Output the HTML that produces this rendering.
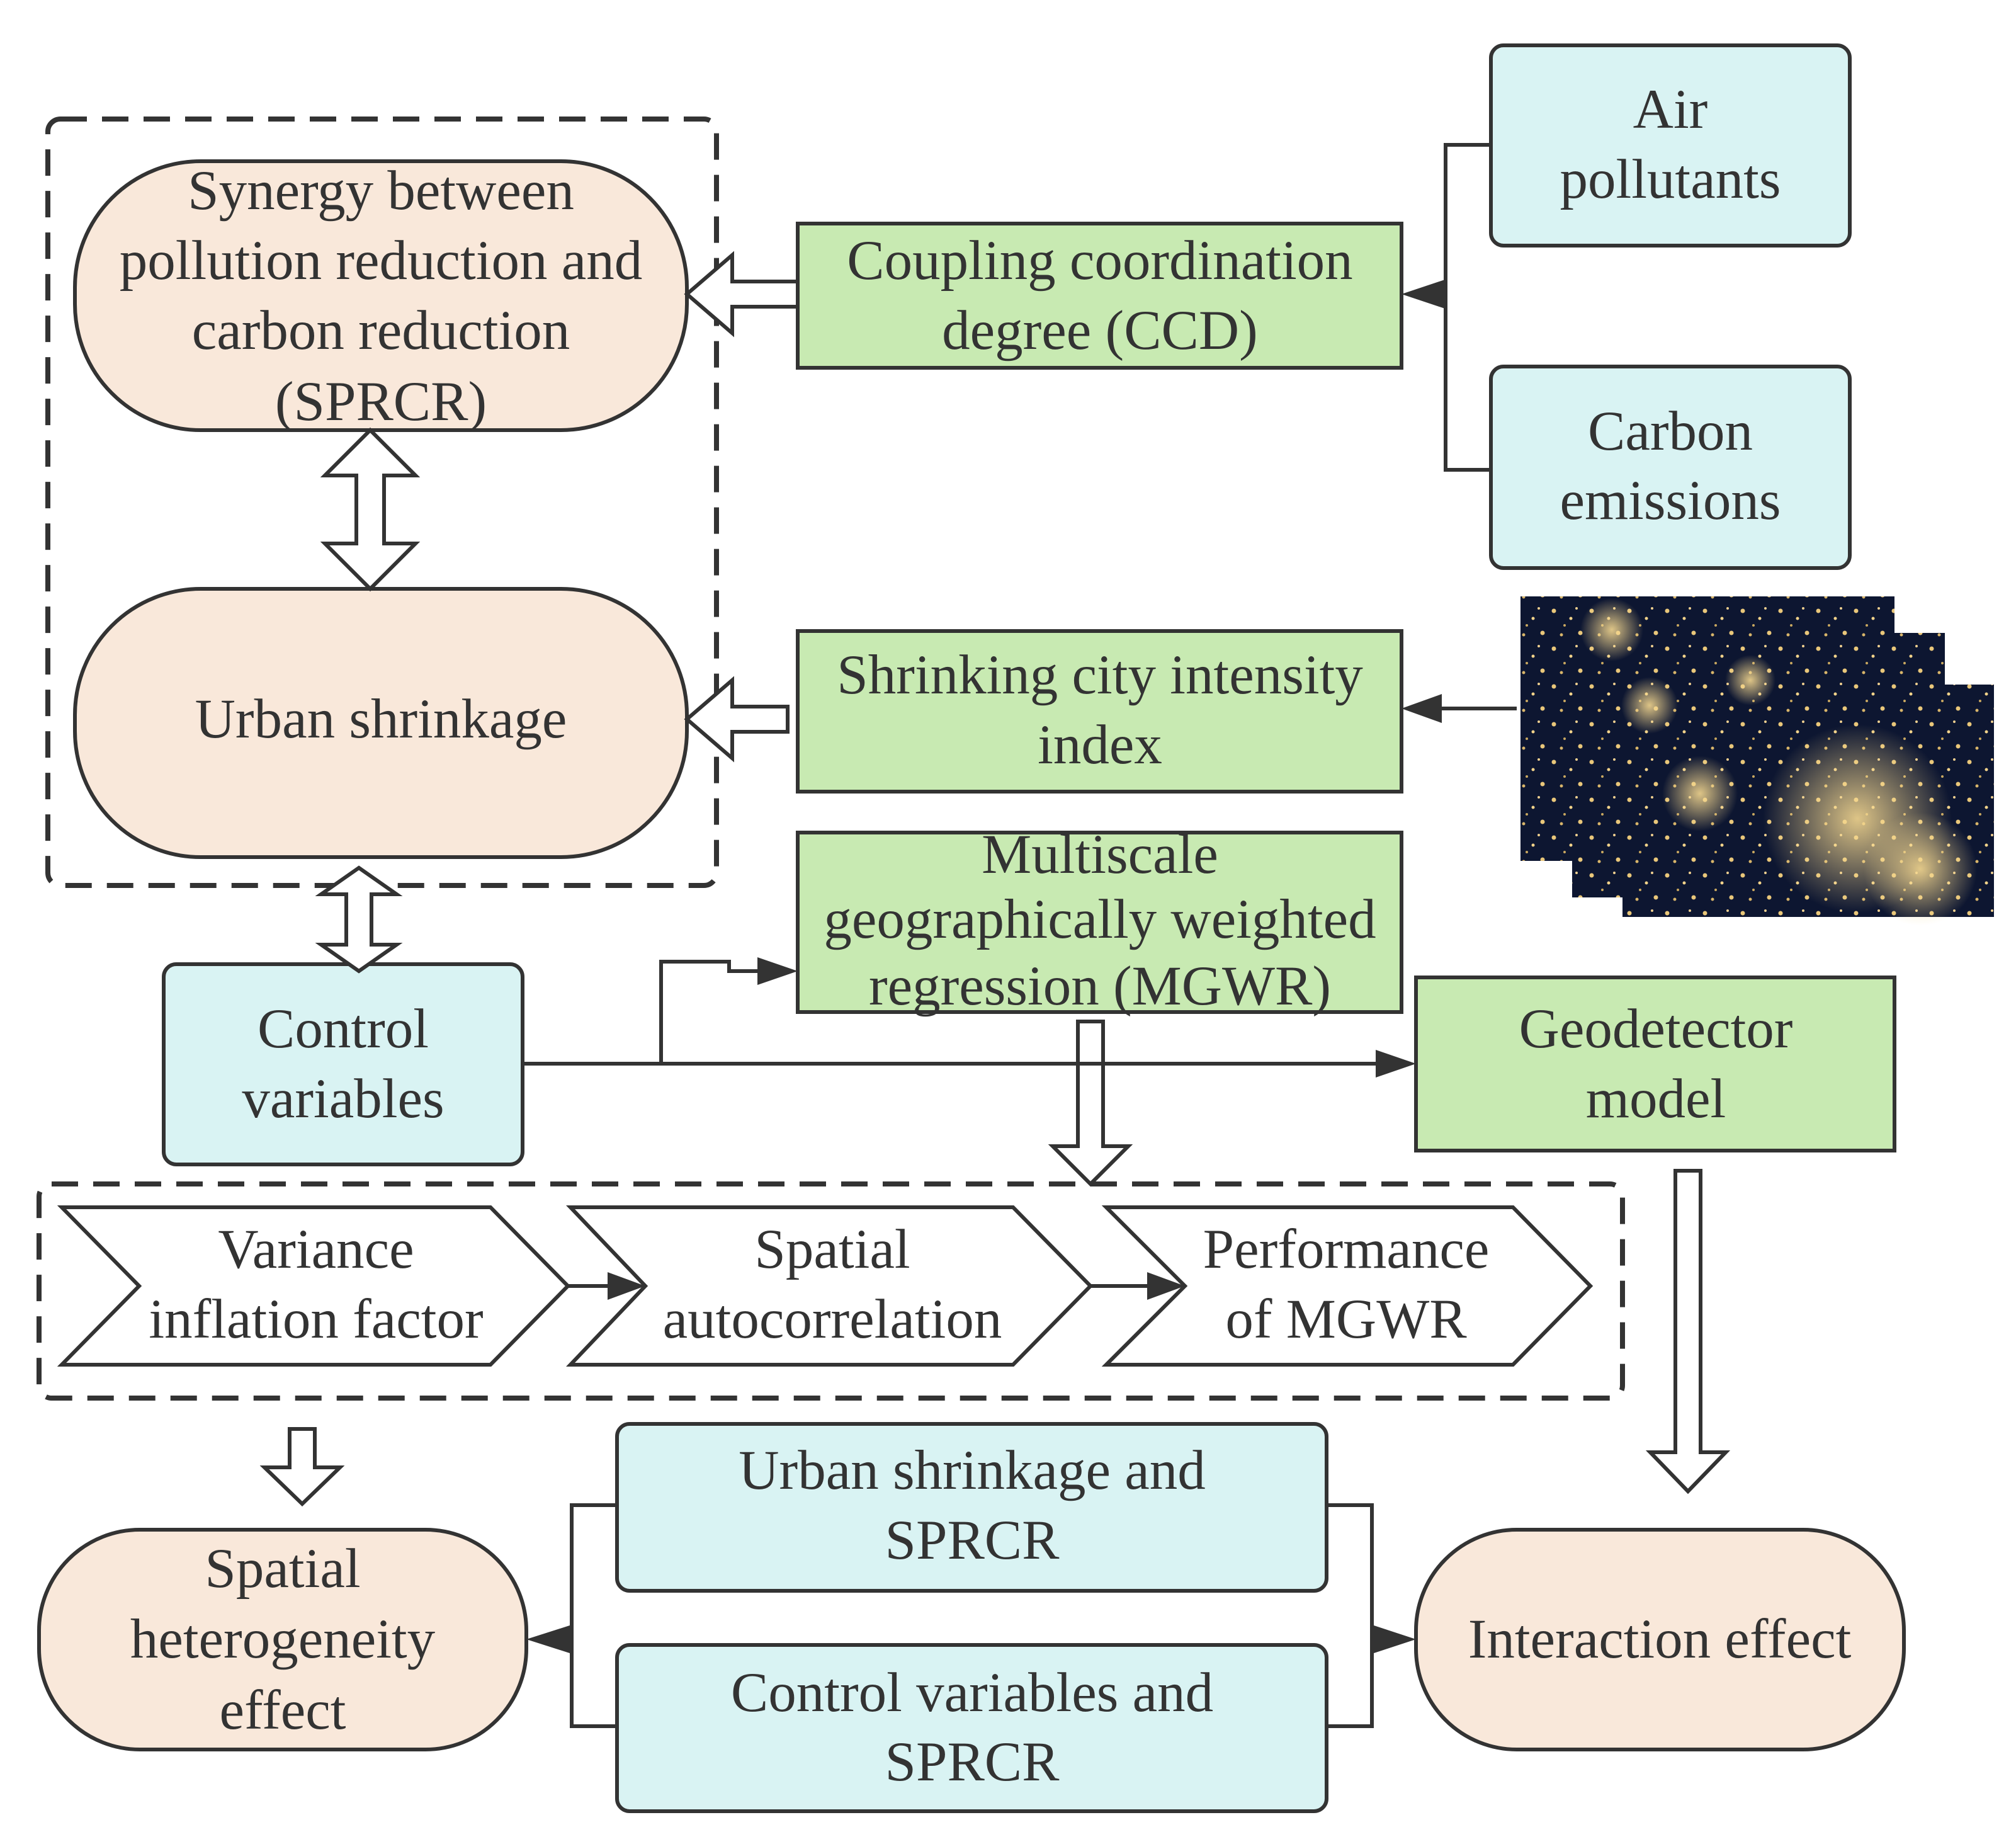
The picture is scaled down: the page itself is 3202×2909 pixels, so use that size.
<!DOCTYPE html>
<html><head><meta charset="utf-8"><style>
html,body{margin:0;padding:0;background:#fff}
svg{display:block}
text{font-family:"Liberation Serif",serif;font-size:89px;fill:#333;text-anchor:middle;dominant-baseline:central}
</style></head><body>
<svg width="3202" height="2909" viewBox="0 0 3202 2909" xmlns="http://www.w3.org/2000/svg">
<defs>
<pattern id="lights" width="60" height="60" patternUnits="userSpaceOnUse">
<rect width="60" height="60" fill="#0d1631"/>
<circle cx="8" cy="10" r="3.5" fill="#e9c77a"/><circle cx="35" cy="22" r="2.5" fill="#f3d38a"/>
<circle cx="50" cy="45" r="3.5" fill="#e9c77a"/><circle cx="20" cy="48" r="2.5" fill="#d8b56a"/>
<circle cx="44" cy="6" r="2" fill="#f0d090"/><circle cx="25" cy="33" r="2" fill="#c9a860"/>
</pattern>
<radialGradient id="glow"><stop offset="0" stop-color="#f5d890" stop-opacity=".9"/><stop offset="1" stop-color="#f5d890" stop-opacity="0"/></radialGradient>
</defs>
<g stroke="#333" stroke-width="8" fill="none">
<rect x="76" y="189" width="1062" height="1217" rx="20" stroke-dasharray="42,24"/>
<rect x="62" y="1880" width="2515" height="340" rx="20" stroke-dasharray="42,24"/>
</g>
<g stroke="#333" stroke-width="6">
<rect x="119" y="256" width="972" height="427" rx="200" ry="200" fill="#f9e8da"/>
<rect x="119" y="935" width="972" height="426" rx="200" ry="200" fill="#f9e8da"/>
<rect x="62" y="2429" width="774" height="349" rx="160" ry="160" fill="#f9e8da"/>
<rect x="2249" y="2429" width="775" height="349" rx="160" ry="160" fill="#f9e8da"/>
<rect x="1267" y="355" width="959" height="229" fill="#c8eab2"/>
<rect x="1267" y="1002" width="959" height="255" fill="#c8eab2"/>
<rect x="1267" y="1322" width="959" height="285" fill="#c8eab2"/>
<rect x="2249" y="1552" width="760" height="275" fill="#c8eab2"/>
<rect x="2368" y="72" width="570" height="318" rx="20" fill="#d9f3f3"/>
<rect x="2368" y="582" width="570" height="320" rx="20" fill="#d9f3f3"/>
<rect x="260" y="1531" width="570" height="318" rx="20" fill="#d9f3f3"/>
<rect x="980" y="2261" width="1127" height="265" rx="20" fill="#d9f3f3"/>
<rect x="980" y="2612" width="1127" height="264" rx="20" fill="#d9f3f3"/>
<polygon points="98,1917 779,1917 902,2042 779,2167 98,2167 221,2042" fill="#fff"/>
<polygon points="906,1917 1609,1917 1732,2042 1609,2167 906,2167 1025,2042" fill="#fff"/>
<polygon points="1757,1917 2403,1917 2526,2042 2403,2167 1757,2167 1882,2042" fill="#fff"/>
<polygon points="1267,447 1163,447 1163,405 1091,467 1163,529 1163,487 1267,487" fill="#fff"/>
<polygon points="1251,1122 1163,1122 1163,1080 1091,1142 1163,1204 1163,1162 1251,1162" fill="#fff"/>
<polygon points="588,683 660,755 610,755 610,863 660,863 588,935 516,863 566,863 566,755 516,755" fill="#fff"/>
<polygon points="570,1378 630,1420 590,1420 590,1500 630,1500 570,1542 510,1500 550,1500 550,1420 510,1420" fill="#fff"/>
<polygon points="1712,1622 1752,1622 1752,1820 1792,1820 1732,1880 1672,1820 1712,1820" fill="#fff"/>
<polygon points="2661,1859 2701,1859 2701,2306 2741,2306 2681,2368 2621,2306 2661,2306" fill="#fff"/>
<polygon points="460,2269 500,2269 500,2330 540,2330 480,2388 420,2330 460,2330" fill="#fff"/>
</g>
<g stroke="#333" stroke-width="6" fill="none">
<polyline points="2368,230 2296,230 2296,746 2368,746"/>
<line x1="2296" y1="467" x2="2260" y2="467"/>
<line x1="2409" y1="1125" x2="2260" y2="1125"/>
<polyline points="830,1689 2215,1689"/>
<polyline points="1050,1689 1050,1527 1158,1527 1158,1542 1232,1542"/>
<line x1="902" y1="2042" x2="990" y2="2042"/>
<line x1="1732" y1="2042" x2="1845" y2="2042"/>
<polyline points="980,2390 908,2390 908,2741 980,2741"/>
<line x1="908" y1="2603" x2="872" y2="2603"/>
<polyline points="2107,2390 2179,2390 2179,2741 2107,2741"/>
<line x1="2179" y1="2603" x2="2215" y2="2603"/>
</g>
<g fill="#333">
<polygon points="2226,467 2298,443 2298,491"/>
<polygon points="2226,1125 2290,1102 2290,1148"/>
<polygon points="2249,1689 2185,1667 2185,1711"/>
<polygon points="1267,1542 1203,1520 1203,1564"/>
<polygon points="1025,2042 965,2020 965,2064"/>
<polygon points="1882,2042 1822,2020 1822,2064"/>
<polygon points="836,2603 908,2580 908,2626"/>
<polygon points="2249,2603 2179,2580 2179,2626"/>
</g>
<rect x="2415" y="947" width="594" height="420" fill="url(#lights)"/>
<rect x="2497" y="1005" width="592" height="420" fill="url(#lights)"/>
<rect x="2577" y="1087" width="590" height="369" fill="url(#lights)"/>
<circle cx="2950" cy="1300" r="150" fill="url(#glow)"/>
<circle cx="3050" cy="1380" r="90" fill="url(#glow)"/>
<circle cx="2700" cy="1260" r="60" fill="url(#glow)"/>
<circle cx="2560" cy="1000" r="50" fill="url(#glow)"/>
<circle cx="2620" cy="1120" r="45" fill="url(#glow)"/>
<circle cx="2780" cy="1080" r="40" fill="url(#glow)"/>
<text x="605" y="303">Synergy between</text>
<text x="605" y="414">pollution reduction  and</text>
<text x="605" y="525">carbon reduction</text>
<text x="605" y="638">(SPRCR)</text>
<text x="605" y="1142">Urban shrinkage</text>
<text x="1747" y="414">Coupling coordination</text>
<text x="1747" y="525">degree (CCD)</text>
<text x="2653" y="174">Air</text>
<text x="2653" y="285">pollutants</text>
<text x="2653" y="685">Carbon</text>
<text x="2653" y="795">emissions</text>
<text x="1747" y="1072">Shrinking city intensity</text>
<text x="1747" y="1183">index</text>
<text x="1747" y="1357">Multiscale</text>
<text x="1747" y="1460">geographically weighted</text>
<text x="1747" y="1566">regression (MGWR)</text>
<text x="545" y="1634">Control</text>
<text x="545" y="1745">variables</text>
<text x="2630" y="1634">Geodetector</text>
<text x="2630" y="1745">model</text>
<text x="502" y="1984">Variance</text>
<text x="502" y="2095">inflation factor</text>
<text x="1322" y="1984">Spatial</text>
<text x="1322" y="2095">autocorrelation</text>
<text x="2138" y="1984">Performance</text>
<text x="2138" y="2095">of MGWR</text>
<text x="449" y="2491">Spatial</text>
<text x="449" y="2603">heterogeneity</text>
<text x="449" y="2716">effect</text>
<text x="1544" y="2335">Urban shrinkage and</text>
<text x="1544" y="2446">SPRCR</text>
<text x="1544" y="2688">Control variables and</text>
<text x="1544" y="2798">SPRCR</text>
<text x="2636" y="2603">Interaction effect</text>
</svg>
</body></html>
